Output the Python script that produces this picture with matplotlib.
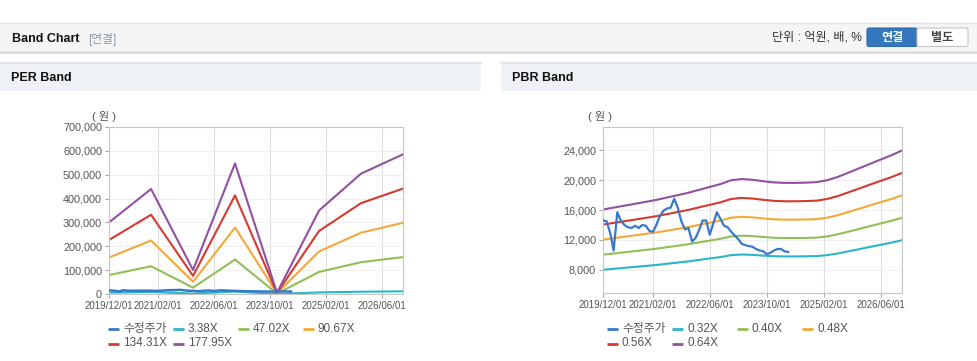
import matplotlib
matplotlib.use('Agg')
import matplotlib.pyplot as plt
import matplotlib.dates as mdates
from matplotlib.patches import Rectangle, FancyBboxPatch
from matplotlib.ticker import FuncFormatter
from datetime import date

plt.rcParams['font.family'] = ['Liberation Sans', 'Noto Sans CJK KR']

W, H = 978, 361

# ---- data ----
tick_labels = ['2019/12/01', '2021/02/01', '2022/06/01', '2023/10/01', '2025/02/01', '2026/06/01']

# monthly adjusted price from 2019/12
price = [14600, 14500, 12900, 10600, 15700, 14600, 14000, 13700, 13600, 13900,
         13600, 14000, 13900, 13200, 13100, 14000, 15200, 15900, 16200, 16300,
         17500, 16300, 14500, 13400, 13600, 11800, 12300, 13300, 14600, 14600,
         12700, 14200, 15700, 14800, 13900, 13700, 13100, 12600, 12100, 11500,
         11300, 11200, 11100, 10800, 10600, 10500, 10100, 10300, 10600, 10800,
         10800, 10500, 10400]

# yearly EPS (December points, 2019 .. 2026)
eps_years = [2019, 2020, 2021, 2022, 2023, 2024, 2025, 2026]
eps = [1686, 2473, 565, 3075, 30, 1967, 2835, 3290]
per_mult = [3.38, 47.02, 90.67, 134.31, 177.95]

# quarterly BPS from 2019/12
bps = [25100, 25500, 25900, 26300, 26700, 27100, 27600, 28100, 28600, 29200,
       29800, 30400, 31200, 31450, 31300, 31000, 30750, 30650, 30650, 30700,
       30800, 31200, 31900, 32800, 33700, 34600, 35500, 36400, 37400]
pbr_mult = [0.32, 0.40, 0.48, 0.56, 0.64]

price_color = '#3a79c9'
band_colors = ['#2ab6c8', '#8fbf56', '#f4a838', '#d43a30', '#9250a0']


def add_months(y, m, k):
    t = y * 12 + (m - 1) + k
    return date(t // 12, t % 12 + 1, 1)


price_dates = [add_months(2019, 12, i) for i in range(len(price))]
eps_dates = [date(y, 12, 1) for y in eps_years]
bps_dates = [add_months(2019, 12, 3 * i) for i in range(len(bps))]
tick_dates = [date(*map(int, s.split('/'))) for s in tick_labels]

fig = plt.figure(figsize=(W / 100, H / 100), dpi=100)

# ---- page decoration in pixel coords ----
bg = fig.add_axes([0, 0, 1, 1])
bg.set_xlim(0, W)
bg.set_ylim(H, 0)
bg.axis('off')

bg.add_patch(Rectangle((0, 22.5), W, 29.5, facecolor='#f5f5f5', edgecolor='none'))
bg.plot([0, W], [22.5, 22.5], color='#e2e2e2', lw=1)
bg.plot([0, W], [52, 52], color='#cfcfcf', lw=1)
bg.plot([0, W], [53.2, 53.2], color='#e9e9e9', lw=1)
bg.text(12, 39, 'Band Chart', fontsize=9, fontweight='bold', va='center', color='#111')
bg.text(88, 39, '[연결]', fontsize=8.5, va='center', color='#8a98aa')
bg.text(862, 38, '단위 : 억원, 배, %', fontsize=8.7, va='center', ha='right', color='#333')
bg.add_patch(FancyBboxPatch((867, 28), 50, 18.5, boxstyle='round,pad=0,rounding_size=2',
                            facecolor='#3577bd', edgecolor='#2f6aab', lw=0.8))
bg.add_patch(FancyBboxPatch((917, 28), 51, 18.5, boxstyle='round,pad=0,rounding_size=2',
                            facecolor='white', edgecolor='#c4c4c4', lw=0.8))
bg.text(892, 37.5, '연결', fontsize=8.7, fontweight='bold', ha='center', va='center', color='white')
bg.text(942.5, 37.5, '별도', fontsize=8.7, fontweight='bold', ha='center', va='center', color='#444')

for x0, x1, title in [(0, 481, 'PER Band'), (501, W, 'PBR Band')]:
    bg.add_patch(Rectangle((x0, 62), x1 - x0, 29, facecolor='#eef1f6', edgecolor='none'))
    bg.plot([x0, x1], [62.8, 62.8], color='#e1e5ec', lw=1.6)
    bg.text(x0 + 11, 78, title, fontsize=9, fontweight='bold', va='center', color='#111')


def draw_legend(x0, labels, colors):
    for i, (lab, col) in enumerate(zip(labels, colors)):
        x = x0 + (i % 4) * 65
        y = 329 + (i // 4) * 14.5
        bg.plot([x, x + 11], [y, y], color=col, lw=2, solid_capstyle='butt')
        bg.text(x + 15, y, lab, fontsize=8.5, va='center', color='#555')


def style_axes(ax):
    ax.set_xlim(date(2019, 12, 1), date(2026, 12, 1))
    ax.set_xticks(tick_dates)
    ax.xaxis.set_major_formatter(FuncFormatter(lambda v, p: mdates.num2date(v).strftime('%Y/%m/%d')))
    ax.yaxis.set_major_formatter(FuncFormatter(lambda v, p: f'{int(round(v)):,}'))
    ax.tick_params(axis='x', labelsize=7, colors='#aaaaaa', labelcolor='#555', length=3, pad=2)
    ax.tick_params(axis='y', labelsize=7.8, colors='#aaaaaa', labelcolor='#555', length=3, pad=2)
    ax.grid(axis='x', color='#dedede', lw=0.8)
    ax.grid(axis='y', color='#f0f0f0', lw=0.8)
    ax.set_axisbelow(True)
    for s in ax.spines.values():
        s.set_color('#c6c6c6')
        s.set_linewidth(0.8)


# ---- PER band ----
ax1 = fig.add_axes([109 / W, 1 - 294 / H, (403 - 109) / W, (294 - 127) / H])
for m, c in zip(per_mult, band_colors):
    ax1.plot(eps_dates, [m * e for e in eps], color=c, lw=1.5)
ax1.plot(price_dates, price, color=price_color, lw=1.8, zorder=3)
ax1.set_ylim(0, 700000)
ax1.set_yticks(range(0, 700001, 100000))
style_axes(ax1)
bg.text(92, 116, '( 원 )', fontsize=8, va='center', color='#555')
draw_legend(108, ['수정주가'] + [f'{m:.2f}X' for m in per_mult], [price_color] + band_colors)

# ---- PBR band ----
ax2 = fig.add_axes([603 / W, 1 - 293 / H, (902 - 603) / W, (293 - 127) / H])
for m, c in zip(pbr_mult, band_colors):
    ax2.plot(bps_dates, [m * b for b in bps], color=c, lw=1.5)
ax2.plot(price_dates, price, color=price_color, lw=1.6, zorder=3)
ax2.set_ylim(4933, 27067)
ax2.set_yticks(range(8000, 24001, 4000))
style_axes(ax2)
bg.text(588, 116, '( 원 )', fontsize=8, va='center', color='#555')
draw_legend(607, ['수정주가'] + [f'{m:.2f}X' for m in pbr_mult], [price_color] + band_colors)

fig.savefig('out.png', dpi=100)
